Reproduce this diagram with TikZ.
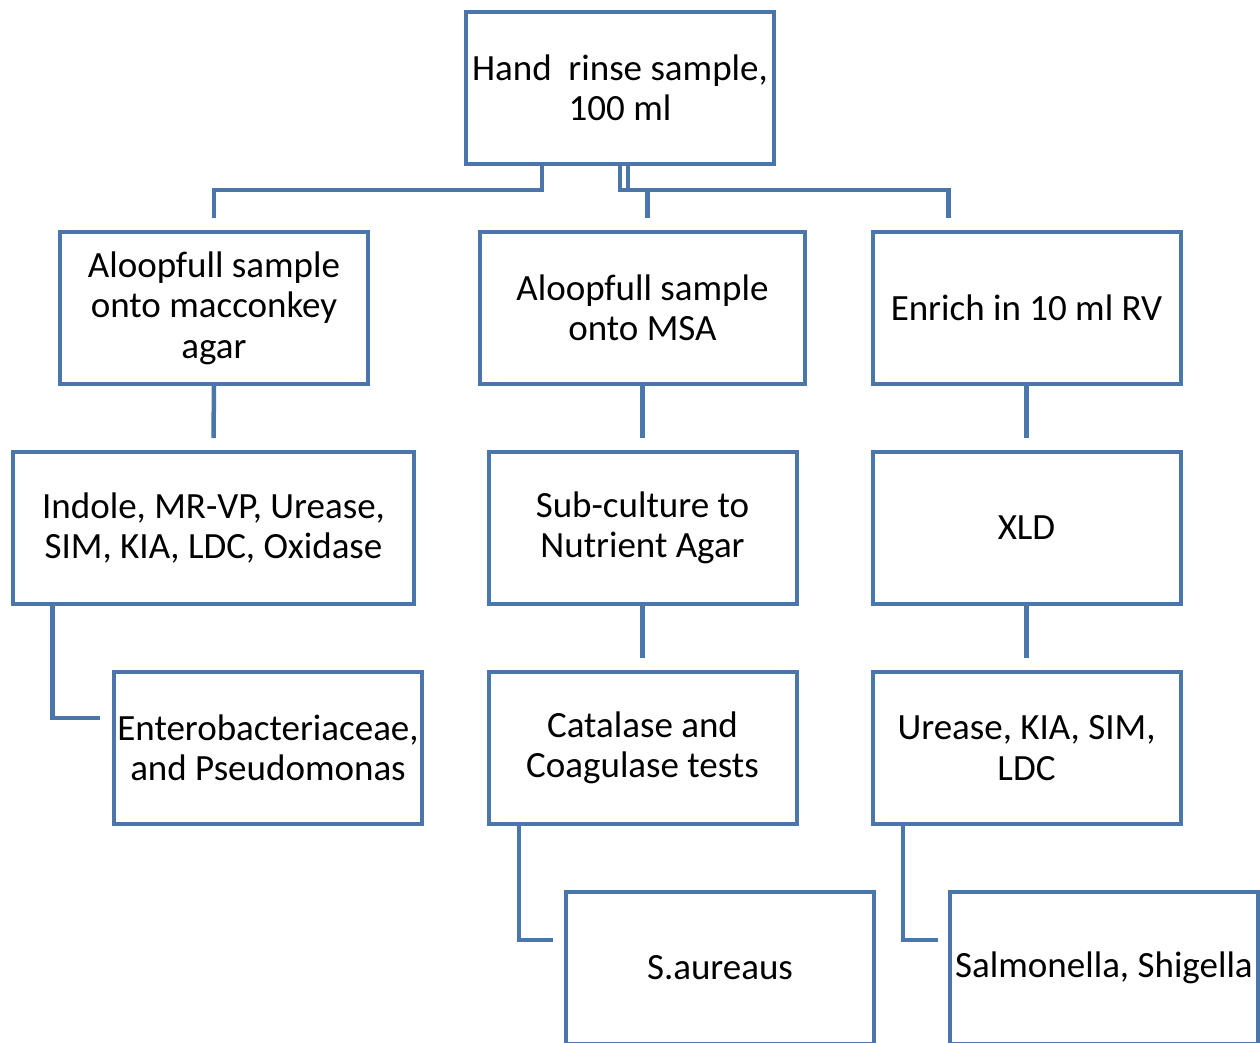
\documentclass[tikz,border=0pt]{standalone}
\usepackage{fontspec}
\setmainfont{Carlito}
\usepackage{tikz}
\usetikzlibrary{positioning,calc}
\definecolor{boxBlue}{RGB}{74,118,172}

\begin{document}
\begin{tikzpicture}[x=1pt,y=-1pt,
    stepbox/.style={draw=boxBlue,line width=4pt,fill=white,align=center,
      inner sep=0pt,minimum width=308pt,minimum height=152pt,
      font=\fontsize{37}{40.5}\selectfont},
    link/.style={draw=boxBlue,line width=4.5pt}]
        \useasboundingbox (0,0) rectangle (1260,1043);
        % Sample
        \node[stepbox] (sample) at (620,88) {Hand\ \ rinse sample,\\100 ml};
        % First plates
        \node[stepbox] (mac) at (214,308) {Aloopfull sample\\onto macconkey\\agar};
        \node[stepbox,minimum width=325pt] (msa) at (642.5,308) {Aloopfull sample\\onto MSA};
        \node[stepbox] (rv) at (1026.5,308) {Enrich in 10 ml RV};
        % Second step
        \node[stepbox,minimum width=401pt] (bioch) at (213.5,528) {Indole, MR-VP, Urease,\\SIM, KIA, LDC, Oxidase};
        \node[stepbox] (nutr) at (642.5,528) {Sub-culture to\\Nutrient Agar};
        \node[stepbox] (xld) at (1026.5,528) {XLD};
        % Third step
        \node[stepbox] (entero) at (268,748) {Enterobacteriaceae,\\and Pseudomonas};
        \node[stepbox] (catal) at (642.5,748) {Catalase and\\Coagulase tests};
        \node[stepbox] (urease) at (1026.5,748) {Urease, KIA, SIM,\\LDC};
        % Results
        \node[stepbox] (saur) at (720,968) {S.aureaus};
        \node[stepbox] (salm) at (1104,968) {Salmonella, Shigella};
        % Top branches
        \draw[link] ([xshift=-78pt]sample.south) -- ++(0,24) -| ([yshift=12pt]mac.north);
        \draw[link] (sample.south) -- ++(0,24) -| ([xshift=5pt,yshift=12pt]msa.north);
        \draw[link] ([xshift=8pt]sample.south) -- ++(0,24) -| ([xshift=-78pt,yshift=12pt]rv.north);
        % Straight links
        \draw[link] (mac.south) -- ([yshift=12pt]bioch.north);
        \draw[link] (msa.south) -- ([yshift=12pt]nutr.north);
        \draw[link] (rv.south) -- ([yshift=12pt]xld.north);
        \draw[link] (nutr.south) -- ([yshift=12pt]catal.north);
        \draw[link] (xld.south) -- ([yshift=12pt]urease.north);
        % Elbow links
        \draw[link] ([xshift=-161pt]bioch.south) |- ([xshift=-12pt,yshift=30pt]entero.west);
        \draw[link] ([xshift=-123.5pt]catal.south) |- ([xshift=-11pt,yshift=28pt]saur.west);
        \draw[link] ([xshift=-123.5pt]urease.south) |- ([xshift=-10pt,yshift=28pt]salm.west);
      \end{tikzpicture}
\end{document}
